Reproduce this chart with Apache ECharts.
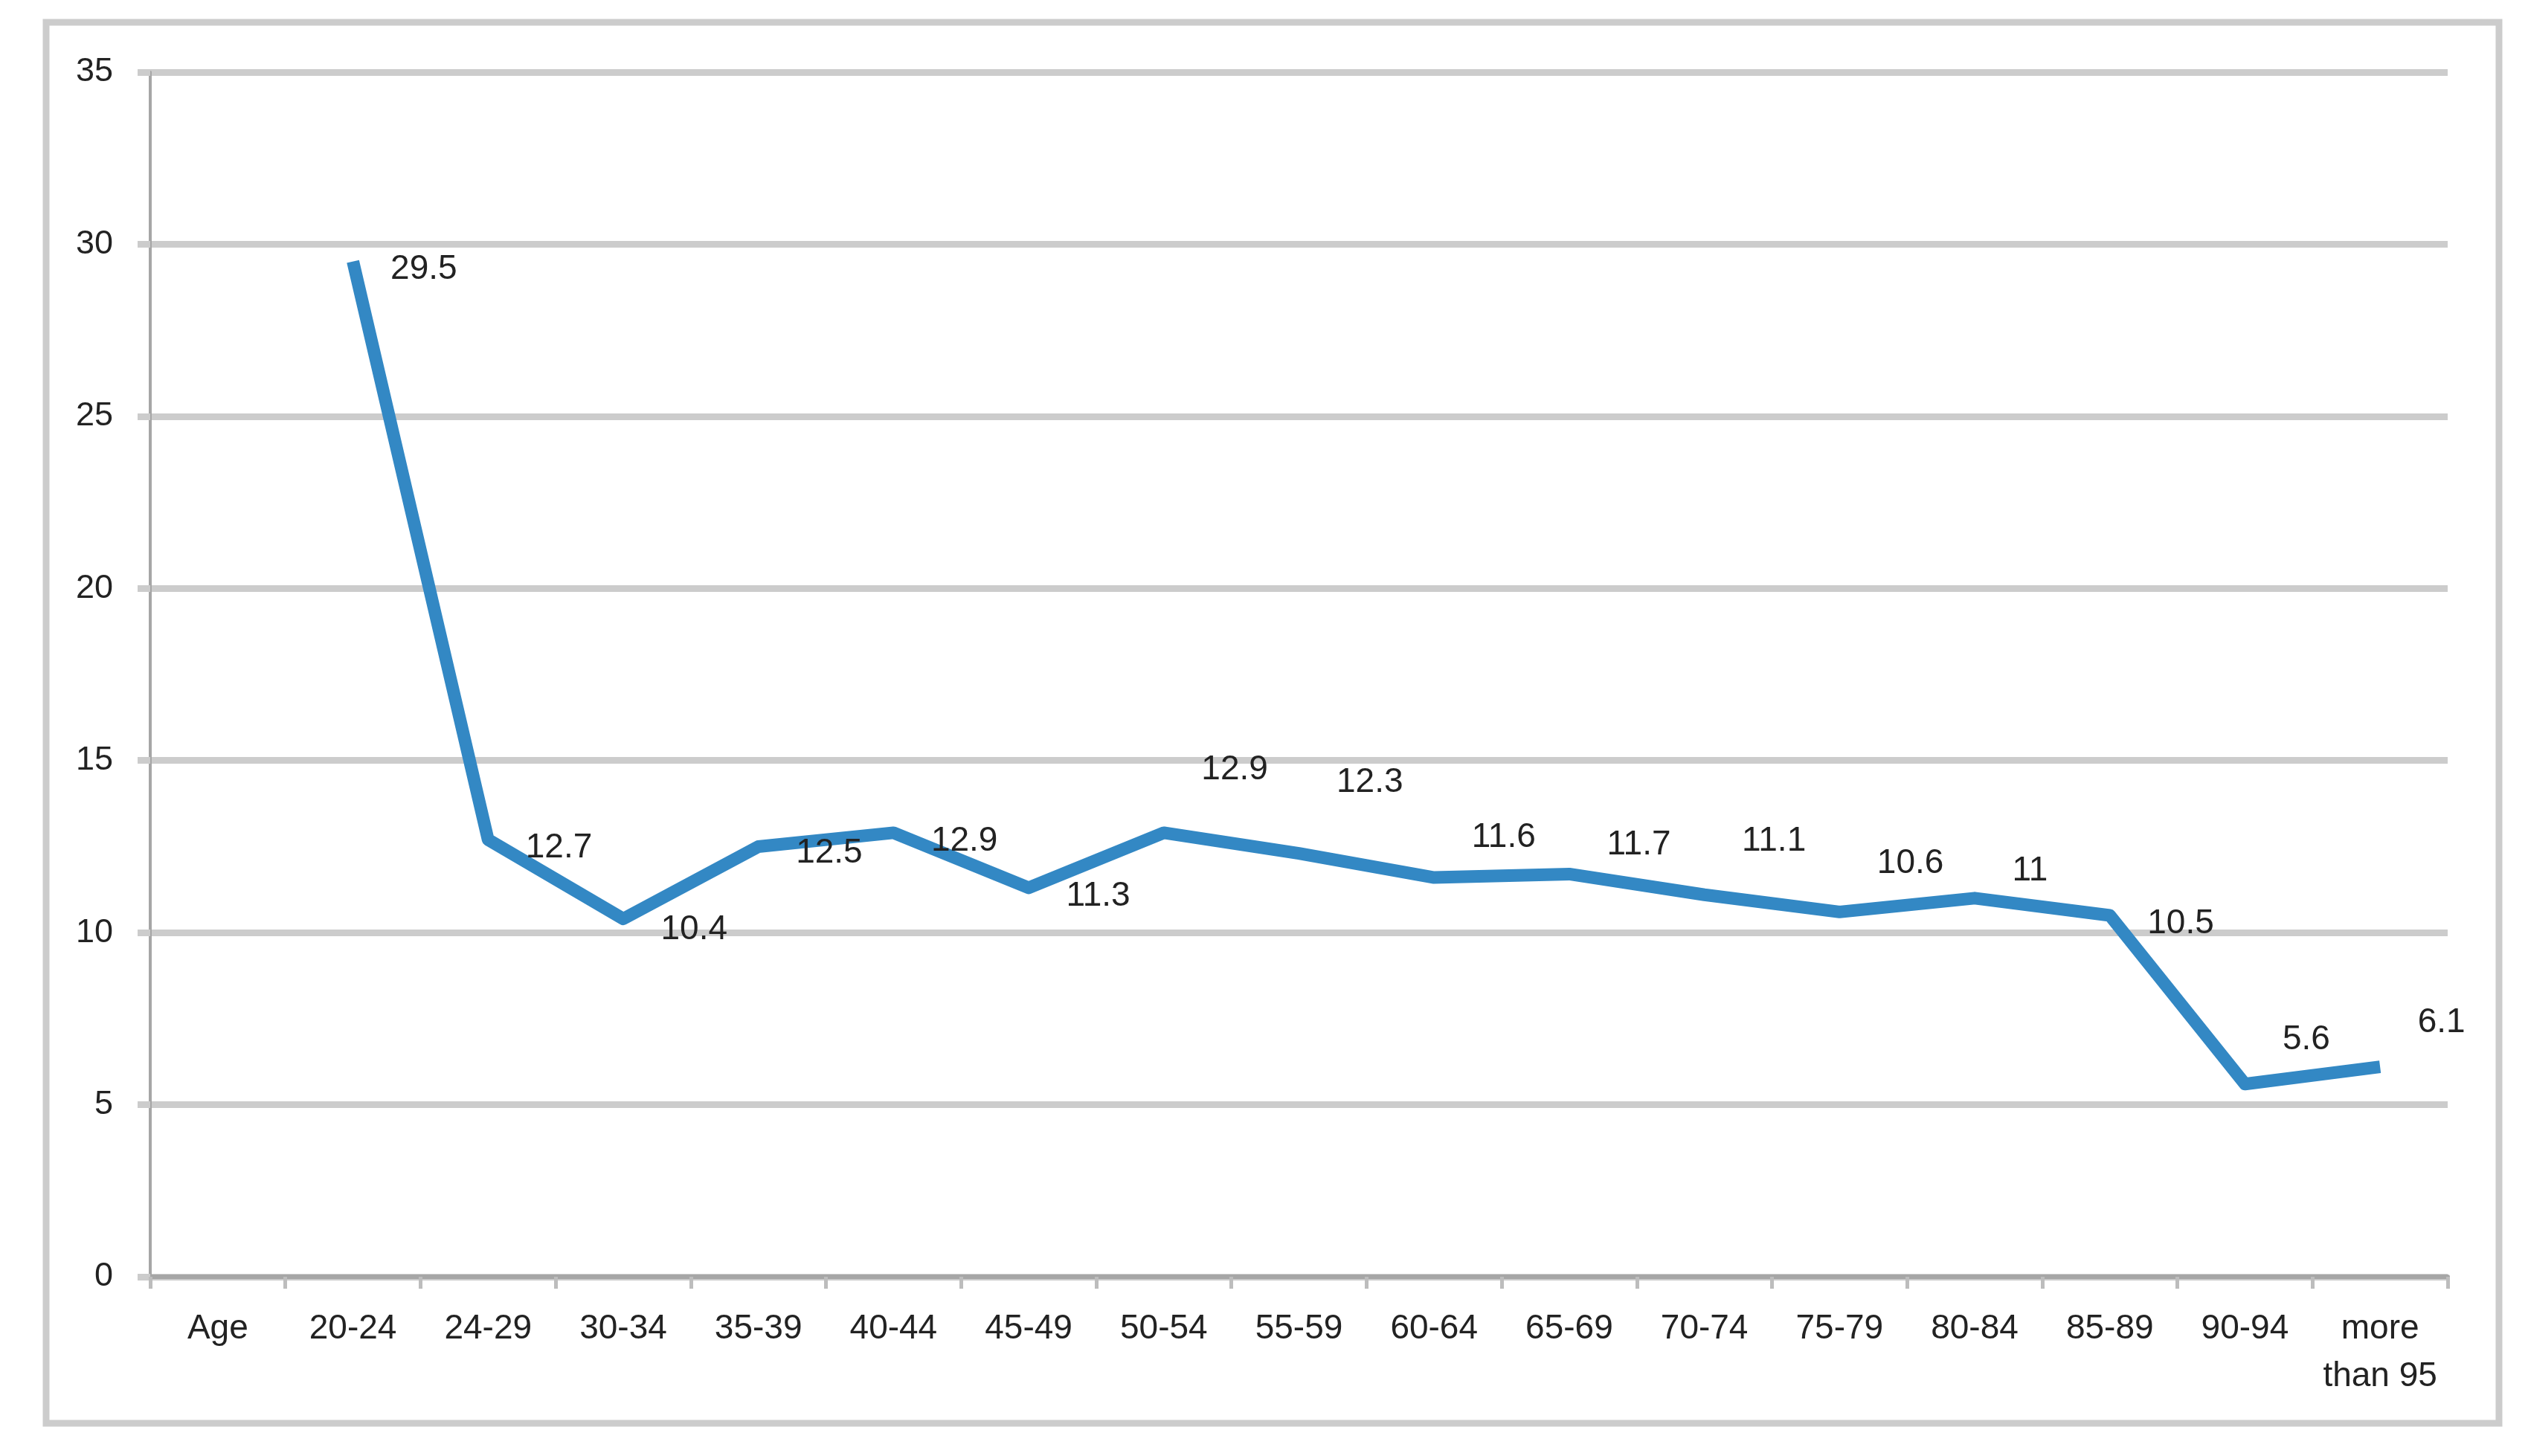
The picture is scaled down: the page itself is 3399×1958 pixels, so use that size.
<!DOCTYPE html>
<html>
<head>
<meta charset="utf-8">
<script src="https://cdn.jsdelivr.net/npm/echarts@6/dist/echarts.min.js"></script>
<style>
html,body{margin:0;padding:0;background:#fff;}
#chart{width:3399px;height:1958px;}
</style>
</head>
<body>
<div id="chart"></div>
<script>
// ---- data ----
var categories = ['Age','20-24','24-29','30-34','35-39','40-44','45-49','50-54','55-59','60-64','65-69','70-74','75-79','80-84','85-89','90-94','more\nthan 95'];
var values = [null, 29.5, 12.7, 10.4, 12.5, 12.9, 11.3, 12.9, 12.3, 11.6, 11.7, 11.1, 10.6, 11, 10.5, 5.6, 6.1];
var yTicks = [0, 5, 10, 15, 20, 25, 30, 35];

// ---- label placement (style only) ----
var labelDy = [0, 11, 11, 15, 9, 11, 11, -85, -95, -54, -39, -72, -65, -37, 11, -59, -59];

var chart = echarts.init(document.getElementById('chart'), null, {renderer:'canvas'});
var font = "'Liberation Sans', Arial, sans-serif";

var seriesData = values.map(function(v, i){
  if (v === null) return null;
  return {
    value: v,
    label: { offset: [0, labelDy[i]] }
  };
});

chart.setOption({
  backgroundColor: '#ffffff',
  animation: false,
  graphic: [{
    type: 'rect',
    shape: { x: 62, y: 30, width: 3298, height: 1884 },
    style: { fill: 'none', stroke: '#cccccc', lineWidth: 9 },
    z: -1
  }],
  grid: { left: 202, right: 108, top: 97, bottom: 241, containLabel: false },
  xAxis: {
    type: 'category',
    data: categories,
    boundaryGap: true,
    axisLine: { show: true, lineStyle: { color: '#a6a6a6', width: 6 } },
    axisTick: { show: true, alignWithLabel: false, length: 16, lineStyle: { color: '#bdbdbd', width: 5 } },
    axisLabel: { interval: 0, margin: 38, fontFamily: font, fontSize: 46, color: '#222', lineHeight: 64, align: 'center' },
    splitLine: { show: false }
  },
  yAxis: {
    type: 'value',
    min: yTicks[0],
    max: yTicks[yTicks.length - 1],
    interval: yTicks[1] - yTicks[0],
    axisLine: { show: true, lineStyle: { color: '#a6a6a6', width: 4 } },
    axisTick: { show: true, length: 17, lineStyle: { color: '#cccccc', width: 9 } },
    axisLabel: { margin: 50, fontFamily: font, fontSize: 45, color: '#222', padding: [8, 0, 0, 0] },
    splitLine: { show: true, lineStyle: { color: '#cccccc', width: 9 } }
  },
  series: [{
    type: 'line',
    data: seriesData,
    connectNulls: false,
    symbol: 'circle',
    symbolSize: 1,
    showSymbol: true,
    itemStyle: { color: 'rgba(0,0,0,0)' },
    lineStyle: { color: '#3388c4', width: 17, cap: 'butt', join: 'round' },
    label: {
      show: true,
      position: 'right',
      distance: 50,
      fontFamily: font,
      fontSize: 46,
      color: '#222'
    },
    z: 5
  }]
});
</script>
</body>
</html>
